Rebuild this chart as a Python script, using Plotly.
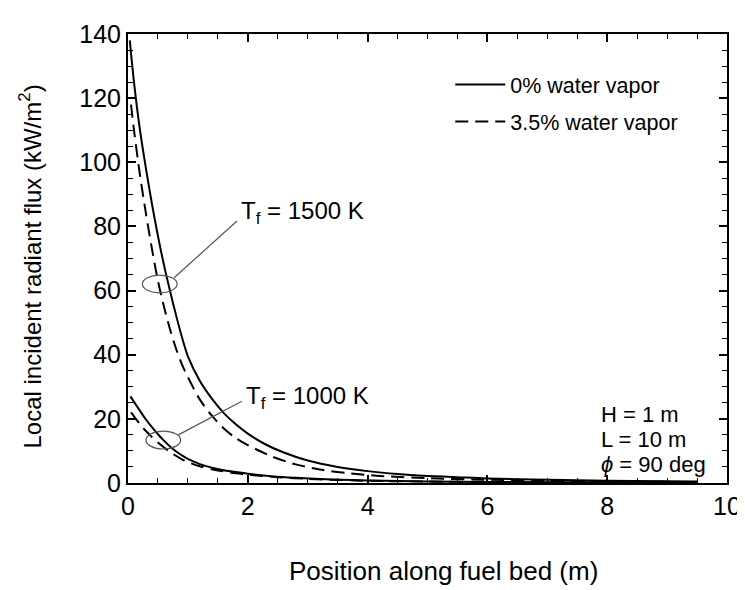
import plotly.graph_objects as go

# ---- data ----
x_1500_dry = [0.03, 0.1, 0.2, 0.3, 0.4, 0.5, 0.6, 0.7, 0.8, 0.9, 1.0, 1.2, 1.4, 1.6, 1.8, 2.0, 2.3, 2.6, 3.0, 3.5, 4.0, 4.5, 5.0, 5.5, 6.0, 7.0, 8.0, 9.0, 9.5]
y_1500_dry = [138, 125, 110, 98, 87, 77, 68, 60, 52.5, 45.5, 39.5, 31.8, 26.3, 21.8, 18.3, 15.4, 12.0, 9.5, 7.0, 5.0, 3.7, 2.8, 2.2, 1.8, 1.4, 1.0, 0.7, 0.55, 0.5]

x_1500_wet = [0.05, 0.1, 0.2, 0.3, 0.4, 0.5, 0.6, 0.7, 0.8, 0.9, 1.0, 1.2, 1.4, 1.6, 1.8, 2.0, 2.4, 2.8, 3.2, 3.7, 4.2, 5.0, 6.0, 7.0, 8.0, 9.0, 9.5]
y_1500_wet = [118, 110, 96, 84, 73, 63, 55, 48, 42, 37, 33, 26, 21, 17, 14, 11.8, 8.3, 5.8, 4.2, 3.0, 2.2, 1.5, 1.0, 0.7, 0.5, 0.35, 0.3]

x_1000_dry = [0.04, 0.1, 0.2, 0.3, 0.4, 0.5, 0.6, 0.7, 0.8, 0.9, 1.0, 1.2, 1.4, 1.6, 1.8, 2.0, 2.4, 2.8, 3.4, 4.0, 5.0, 6.0, 7.0, 8.0, 9.0, 9.5]
y_1000_dry = [27, 25.3, 22.5, 19.8, 17.4, 15.2, 13.2, 11.4, 9.9, 8.6, 7.5, 5.9, 4.8, 4.0, 3.4, 2.9, 2.1, 1.6, 1.1, 0.8, 0.5, 0.35, 0.25, 0.2, 0.15, 0.15]

x_1000_wet = [0.05, 0.1, 0.2, 0.3, 0.4, 0.5, 0.6, 0.7, 0.8, 0.9, 1.0, 1.2, 1.4, 1.6, 1.8, 2.0, 2.5, 3.0, 4.0, 5.0, 6.0, 7.0, 8.0, 9.0, 9.5]
y_1000_wet = [22, 20.8, 18.3, 16.2, 14.3, 12.6, 11.1, 9.7, 8.5, 7.4, 6.5, 5.2, 4.3, 3.6, 3.0, 2.6, 1.8, 1.3, 0.7, 0.45, 0.3, 0.2, 0.15, 0.12, 0.1]

legend_names = ["0% water vapor", "3.5% water vapor"]
x_ticks = [0, 2, 4, 6, 8, 10]
y_ticks = [0, 20, 40, 60, 80, 100, 120, 140]
x_title = "Position along fuel bed (m)"
y_title = "Local incident radiant flux (kW/m<sup>2</sup>)"

FONT = "Liberation Sans, Arial, sans-serif"
DASH = "13px,7px"

fig = go.Figure()
fig.add_trace(go.Scatter(x=x_1500_dry, y=y_1500_dry, mode="lines", name=legend_names[0],
                         line=dict(color="black", width=2, shape="spline", smoothing=0.8),
                         legendgroup="a", showlegend=True))
fig.add_trace(go.Scatter(x=x_1500_wet, y=y_1500_wet, mode="lines", name=legend_names[1],
                         line=dict(color="black", width=2, dash=DASH, shape="spline", smoothing=0.8),
                         legendgroup="b", showlegend=True))
fig.add_trace(go.Scatter(x=x_1000_dry, y=y_1000_dry, mode="lines", name=legend_names[0],
                         line=dict(color="black", width=2, shape="spline", smoothing=0.8),
                         legendgroup="a", showlegend=False))
fig.add_trace(go.Scatter(x=x_1000_wet, y=y_1000_wet, mode="lines", name=legend_names[1],
                         line=dict(color="black", width=2, dash=DASH, shape="spline", smoothing=0.8),
                         legendgroup="b", showlegend=False))

axis_common = dict(
    showline=True, mirror="allticks", linecolor="black", linewidth=2,
    ticks="inside", ticklen=8, tickwidth=1.5, tickcolor="black",
    showgrid=False, zeroline=False, ticklabeloverflow="allow",
    tickfont=dict(family=FONT, size=25, color="black"),
)

fig.update_xaxes(range=[0, 10], tickvals=x_ticks,
                 minor=dict(dtick=0.5, ticks="inside", ticklen=5, tickwidth=1.2, tickcolor="black"),
                 **axis_common)
fig.update_yaxes(range=[0, 140], tickvals=y_ticks,
                 minor=dict(dtick=5, ticks="inside", ticklen=5, tickwidth=1.2, tickcolor="black"),
                 **axis_common)

GRAY = "#555555"
shapes = [
    dict(type="circle", xref="x", yref="y", x0=0.24, x1=0.82, y0=59.3, y1=64.8, line=dict(color=GRAY, width=1.2)),
    dict(type="line", xref="x", yref="y", x0=0.77, y0=64.0, x1=1.82, y1=81.7, line=dict(color=GRAY, width=1.2)),
    dict(type="circle", xref="x", yref="y", x0=0.3, x1=0.88, y0=10.6, y1=16.2, line=dict(color=GRAY, width=1.2)),
    dict(type="line", xref="x", yref="y", x0=0.84, y0=15.0, x1=1.9, y1=25.5, line=dict(color=GRAY, width=1.2)),
]

ann_font = dict(family=FONT, size=24, color="black")
small_font = dict(family=FONT, size=22, color="black")
annotations = [
    dict(text="T<sub>f</sub> = 1500 K", x=1.85, y=84.2, xref="x", yref="y", xanchor="left", yanchor="middle",
         showarrow=False, font=ann_font),
    dict(text="T<sub>f</sub> = 1000 K", x=1.93, y=26.8, xref="x", yref="y", xanchor="left", yanchor="middle",
         showarrow=False, font=ann_font),
    dict(text="H = 1 m", x=7.86, y=21.3, xref="x", yref="y", xanchor="left", yanchor="middle",
         showarrow=False, font=small_font),
    dict(text="L = 10 m", x=7.86, y=13.5, xref="x", yref="y", xanchor="left", yanchor="middle",
         showarrow=False, font=small_font),
    dict(text="<i>ϕ</i> = 90 deg", x=7.86, y=5.7, xref="x", yref="y", xanchor="left", yanchor="middle",
         showarrow=False, font=small_font),
    dict(text=x_title, x=5.27, y=0, xref="x", yref="paper", xanchor="center", yanchor="middle",
         yshift=-88, showarrow=False, font=dict(family=FONT, size=26, color="black")),
    dict(text=y_title, x=0, y=67.5, xref="paper", yref="y", xanchor="center", yanchor="middle",
         xshift=-98, textangle=-90, showarrow=False, font=dict(family=FONT, size=24, color="black")),
]

fig.update_layout(
    width=745, height=590,
    margin=dict(l=120, r=15, t=14, b=115),
    plot_bgcolor="white", paper_bgcolor="white",
    shapes=shapes, annotations=annotations,
    showlegend=True,
    legend=dict(x=0.538, y=0.933, xanchor="left", yanchor="top", bgcolor="rgba(0,0,0,0)",
                font=dict(family=FONT, size=21.5, color="black"), traceorder="grouped",
                tracegroupgap=6, itemwidth=50),
)

fig.write_html("out.html")
